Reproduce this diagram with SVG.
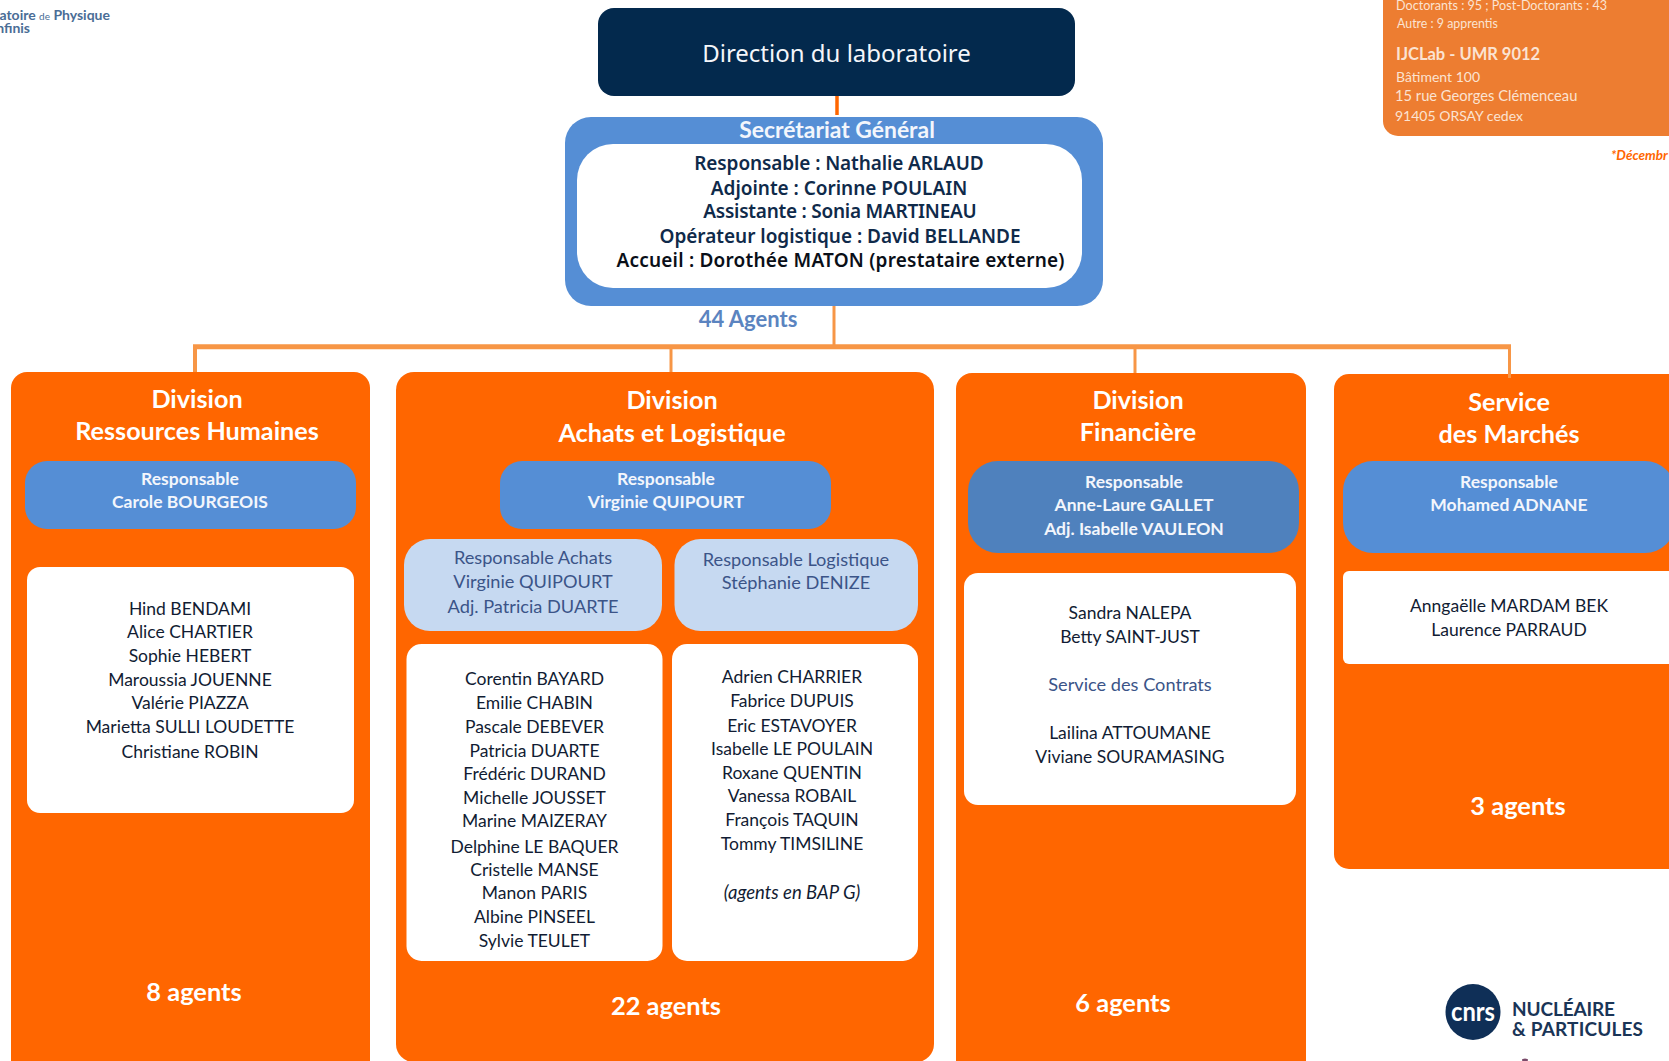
<svg xmlns="http://www.w3.org/2000/svg" width="1669" height="1061" viewBox="0 0 1669 1061">
<style>
text{font-family:"Lato","Liberation Sans",sans-serif;text-anchor:middle}
.div{fill:#ff6600}
.resp{fill:#558ed5}
.sub{fill:#c6d9f1}
.card{fill:#fff}
.t{fill:#fff;font-weight:700;font-size:25.200px}
.r{fill:#f3f6fc;font-weight:700;font-size:17.500px}
.n{fill:#111c33;font-size:17.500px}
.s{fill:#3b5488;font-size:18.200px}
.a{fill:#fff;font-weight:700;font-size:25.400px}
.sg{font-family:"Noto Sans","DejaVu Sans",sans-serif;font-size:19px;font-weight:600;fill:#0f2a4a}
.info{fill:#fbe3d2;text-anchor:start;font-size:14px}
.c1{fill:none;stroke:#f79646}
</style>
<rect width="1669" height="1061" fill="#fff"/>
<g id="connectors">
<path d="M837 96V115" fill="none" stroke="#ff6600" stroke-width="3.500"/>
<path class="c1" stroke-width="3" d="M834 306V346"/>
<path class="c1" stroke-width="5" d="M193 346.800H1511"/>
<path class="c1" stroke-width="4" d="M195 347V373"/>
<path class="c1" stroke-width="3" d="M671 347V373"/>
<path class="c1" stroke-width="3" d="M1135 347V374"/>
</g>
<g id="logo-lab">
<text x="110" y="20" style="text-anchor:end;font-size:14px;font-weight:700;fill:#4a6d96">atoire <tspan font-size="10" font-weight="400">de</tspan> Physique</text>
<text x="30" y="33" style="text-anchor:end;font-size:14px;font-weight:700;fill:#4a6d96">nfinis</text>
</g>
<g id="direction">
<rect x="598" y="8" width="477" height="88" rx="16" fill="#03294d"/>
<text x="836.500" y="62" style="fill:#f4f6fa;font-family:'Noto Sans','DejaVu Sans',sans-serif;font-size:24px">Direction du laboratoire</text>
</g>
<g id="secretariat">
<rect x="565" y="117" width="538" height="189" rx="26" class="resp"/>
<rect x="577" y="144" width="505" height="144" rx="36" class="card"/>
<text x="837" y="138" style="fill:#f3f6fc;font-weight:700;font-size:22.900px">Secrétariat Général</text>
<text x="839" y="170" class="sg" textLength="289.500">Responsable : Nathalie ARLAUD</text>
<text x="839" y="195" class="sg" textLength="256.500">Adjointe : Corinne POULAIN</text>
<text x="840" y="218" class="sg" textLength="273.500">Assistante : Sonia MARTINEAU</text>
<text x="840" y="243" class="sg" textLength="361">Opérateur logistique : David BELLANDE</text>
<text x="840.500" y="267" class="sg" style="fill:#0a0f18" textLength="448">Accueil : Dorothée MATON (prestataire externe)</text>
</g>
<g id="agents-sg"><text x="748" y="327" style="fill:#5b84c0;font-weight:700;font-size:22px">44 Agents</text></g>

<g id="div-rh">
<rect x="11" y="372" width="359" height="720" rx="16" class="div"/>
<text x="197" y="408" class="t">Division</text><text x="197" y="440" class="t">Ressources Humaines</text>
<rect x="25" y="461" width="331" height="68" rx="22" class="resp"/>
<text x="190" y="485" class="r">Responsable</text><text x="190" y="508" class="r">Carole BOURGEOIS</text>
<rect x="27" y="567" width="327" height="246" rx="13" class="card"/>
<text x="190" y="615" class="n">Hind BENDAMI</text>
<text x="190" y="638" class="n">Alice CHARTIER</text>
<text x="190" y="662" class="n">Sophie HEBERT</text>
<text x="190" y="686" class="n">Maroussia JOUENNE</text>
<text x="190" y="709" class="n">Valérie PIAZZA</text>
<text x="190" y="733" class="n">Marietta SULLI LOUDETTE</text>
<text x="190" y="758" class="n">Christiane ROBIN</text>
<text x="194" y="1001" class="a">8 agents</text>
</g>

<g id="div-achats">
<rect x="396" y="372" width="538" height="690" rx="18" class="div"/>
<text x="672" y="409" class="t">Division</text><text x="672" y="442" class="t">Achats et Logistique</text>
<rect x="500" y="461" width="331" height="68" rx="22" class="resp"/>
<text x="666" y="485" class="r">Responsable</text><text x="666" y="508" class="r">Virginie QUIPOURT</text>
<rect x="404" y="539" width="258" height="92" rx="26" class="sub"/>
<text x="533" y="564" class="s">Responsable Achats</text><text x="533" y="588" class="s">Virginie QUIPOURT</text><text x="533" y="613" class="s">Adj. Patricia DUARTE</text>
<rect x="674.500" y="539" width="243.500" height="92" rx="26" class="sub"/>
<text x="796" y="566" class="s">Responsable Logistique</text><text x="796" y="589" class="s">Stéphanie DENIZE</text>
<rect x="406.500" y="644" width="256" height="317" rx="15" class="card"/>
<text x="534.500" y="685" class="n">Corentin BAYARD</text>
<text x="534.500" y="709" class="n">Emilie CHABIN</text>
<text x="534.500" y="733" class="n">Pascale DEBEVER</text>
<text x="534.500" y="757" class="n">Patricia DUARTE</text>
<text x="534.500" y="780" class="n">Frédéric DURAND</text>
<text x="534.500" y="804" class="n">Michelle JOUSSET</text>
<text x="534.500" y="827" class="n">Marine MAIZERAY</text>
<text x="534.500" y="853" class="n">Delphine LE BAQUER</text>
<text x="534.500" y="876" class="n">Cristelle MANSE</text>
<text x="534.500" y="899" class="n">Manon PARIS</text>
<text x="534.500" y="923" class="n">Albine PINSEEL</text>
<text x="534.500" y="947" class="n">Sylvie TEULET</text>
<rect x="672" y="644" width="246" height="317" rx="15" class="card"/>
<text x="792" y="683" class="n">Adrien CHARRIER</text>
<text x="792" y="707" class="n">Fabrice DUPUIS</text>
<text x="792" y="732" class="n">Eric ESTAVOYER</text>
<text x="792" y="755" class="n">Isabelle LE POULAIN</text>
<text x="792" y="779" class="n">Roxane QUENTIN</text>
<text x="792" y="802" class="n">Vanessa ROBAIL</text>
<text x="792" y="826" class="n">François TAQUIN</text>
<text x="792" y="850" class="n">Tommy TIMSILINE</text>
<text x="792" y="899" class="n" font-style="italic" font-size="18.500" style="font-size:18.500px">(agents en BAP G)</text>
<text x="666" y="1015" class="a">22 agents</text>
</g>

<g id="div-fin">
<rect x="956" y="373" width="350" height="720" rx="16" class="div"/>
<text x="1138" y="409" class="t">Division</text><text x="1138" y="441" class="t">Financière</text>
<rect x="968" y="461" width="331" height="92" rx="30" fill="#4f81bd"/>
<text x="1134" y="488" class="r">Responsable</text><text x="1134" y="511" class="r">Anne-Laure GALLET</text><text x="1134" y="535" class="r">Adj. Isabelle VAULEON</text>
<rect x="964" y="573" width="332" height="232" rx="14" class="card"/>
<text x="1130" y="619" class="n">Sandra NALEPA</text>
<text x="1130" y="643" class="n">Betty SAINT-JUST</text>
<text x="1130" y="691" class="s">Service des Contrats</text>
<text x="1130" y="739" class="n">Lailina ATTOUMANE</text>
<text x="1130" y="763" class="n">Viviane SOURAMASING</text>
<text x="1123" y="1012" class="a">6 agents</text>
</g>

<g id="service-marches">
<rect x="1334" y="374" width="400" height="495" rx="15" class="div"/>
<path class="c1" stroke-width="3" d="M1509.500 347V378"/>
<text x="1509" y="411" class="t">Service</text><text x="1509" y="443" class="t">des Marchés</text>
<rect x="1343" y="461" width="332" height="92" rx="30" class="resp"/>
<text x="1509" y="488" class="r">Responsable</text><text x="1509" y="511" class="r">Mohamed ADNANE</text>
<rect x="1343" y="571" width="340" height="93" rx="6" class="card"/>
<text x="1509" y="612" class="n">Anngaëlle MARDAM BEK</text>
<text x="1509" y="636" class="n">Laurence PARRAUD</text>
<text x="1518" y="815" class="a">3 agents</text>
</g>

<g id="info-box">
<rect x="1383" y="-40" width="320" height="176" rx="15" fill="#ed7d31"/>
<text x="1396" y="10" class="info" style="font-size:12.600px">Doctorants : 95 ; Post-Doctorants : 43</text>
<text x="1397" y="28" class="info" style="font-size:12.400px">Autre : 9 apprentis</text>
<text x="1396" y="60" class="info" style="font-weight:700;font-size:16.500px">IJCLab - UMR 9012</text>
<text x="1396" y="82" class="info">Bâtiment 100</text>
<text x="1395" y="101" class="info" style="font-size:14.700px">15 rue Georges Clémenceau</text>
<text x="1395" y="121" class="info">91405 ORSAY cedex</text>
</g>
<g id="note"><text x="1611" y="160" style="text-anchor:start;fill:#ff6600;font-style:italic;font-weight:700;font-size:13.500px">*Décembr</text></g>

<g id="logo-cnrs">
<ellipse cx="1473" cy="1012" rx="27.500" ry="28" fill="#0f2f57"/>
<text x="1473" y="1021" style="fill:#fff;font-weight:700;font-size:27px" textLength="44" lengthAdjust="spacingAndGlyphs">cnrs</text>
<text x="1512" y="1016" style="text-anchor:start;fill:#1a3557;font-weight:700;font-size:19px" textLength="103">NUCLÉAIRE</text>
<text x="1512" y="1036" style="text-anchor:start;fill:#1a3557;font-weight:700;font-size:19px" textLength="131">&amp; PARTICULES</text>
<ellipse cx="1525" cy="1060" rx="3" ry="1.500" fill="#7a4a6a"/>
</g>
</svg>
